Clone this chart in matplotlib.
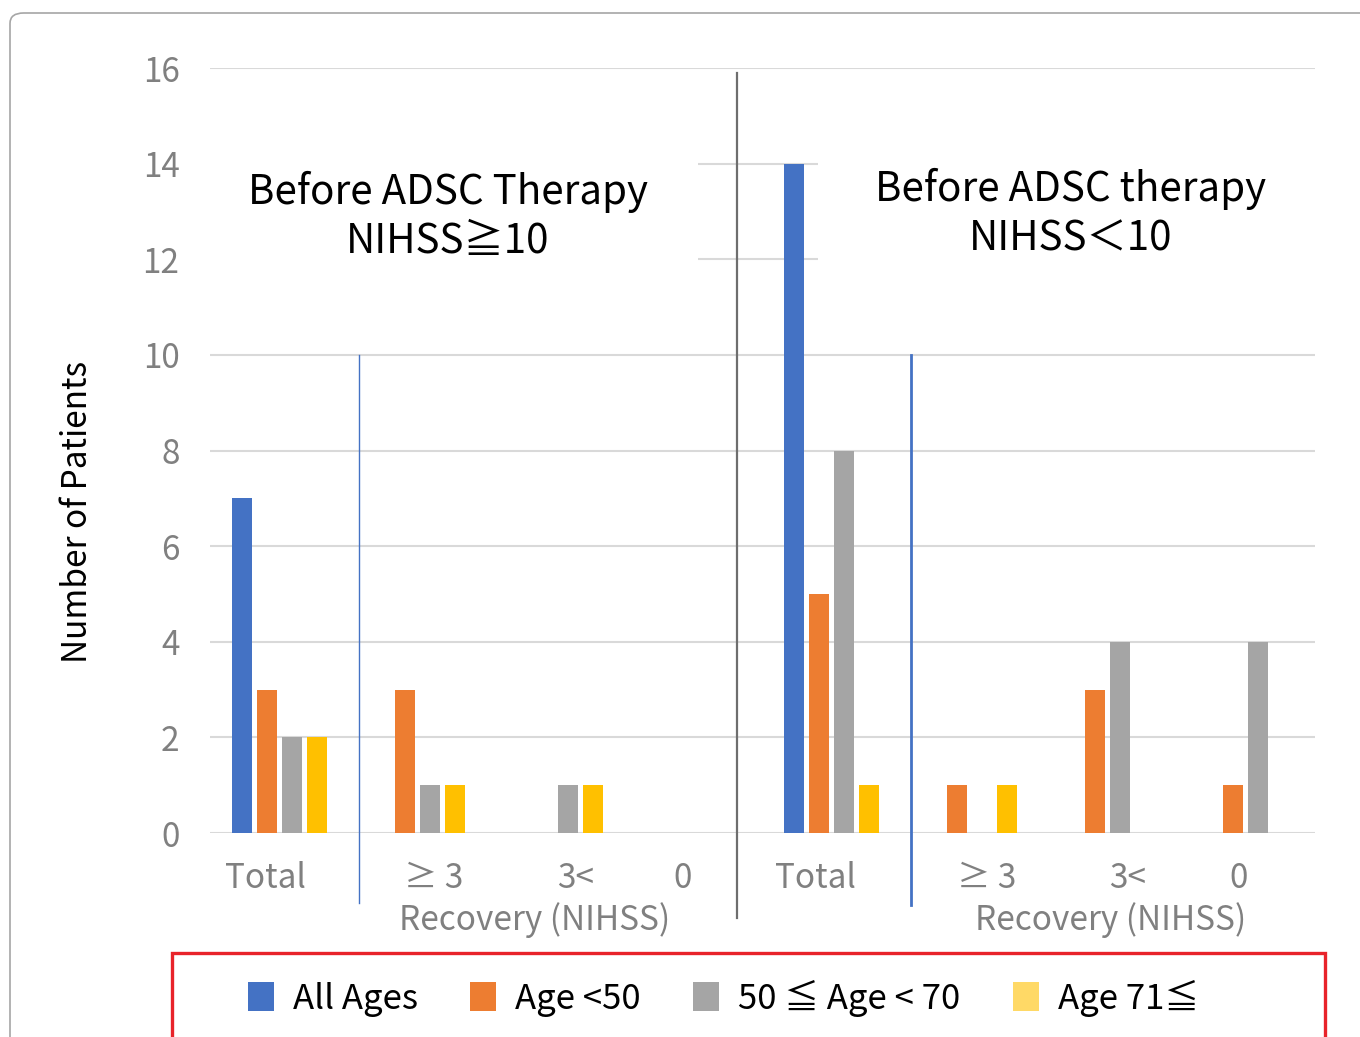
import matplotlib
matplotlib.use("Agg")
import matplotlib.pyplot as plt
from matplotlib.patches import Patch, Rectangle, FancyBboxPatch
import numpy as np

plt.rcParams["font.family"] = ["Noto Sans CJK JP", "DejaVu Sans"]

categories = ["Total", "≥ 3", "3<", "0", "Total", "≥ 3", "3<", "0"]
series_names = ["All Ages", "Age <50", "50 ≦ Age < 70", "Age 71≦"]
all_ages = [7, 0, 0, 0, 14, 0, 0, 0]
age_under_50 = [3, 3, 0, 0, 5, 1, 3, 1]
age_50_70 = [2, 1, 1, 0, 8, 0, 4, 4]
age_over_71 = [2, 1, 1, 0, 1, 1, 0, 0]
yticks = [0, 2, 4, 6, 8, 10, 12, 14, 16]

bar_colors = ["#4472C4", "#ED7D31", "#A5A5A5", "#FFC000"]
legend_colors = ["#4472C4", "#ED7D31", "#A5A5A5", "#FFD966"]
tick_gray = "#808080"

fig = plt.figure(figsize=(13.6, 10.37), dpi=100)
ax = fig.add_axes([0.1544, 0.1967, 0.8125, 0.7377])

x = np.arange(len(categories))
step = 0.181
width = 0.145
values = [all_ages, age_under_50, age_50_70, age_over_71]
for i, (vals, color) in enumerate(zip(values, bar_colors)):
    ax.bar(x + (i - 1.5) * step, vals, width=width, color=color, zorder=3)

ax.set_xlim(-0.5, 7.5)
ax.set_ylim(0, 16)
ax.set_yticks(yticks)
ax.grid(axis="y", color="#d9d9d9", linewidth=1.5, zorder=0)
ax.set_axisbelow(True)
for side in ["top", "right", "left", "bottom"]:
    ax.spines[side].set_visible(False)
ax.tick_params(axis="both", length=0, colors=tick_gray, labelsize=24)
ax.tick_params(axis="y", pad=22)
ax.tick_params(axis="x", pad=20)

# category labels sit slightly off the bar-group centres
shifts = np.array([-0.1, 0.12, 0.15, -0.08, -0.12, 0.12, 0.14, -0.05])
ax.set_xticks(x + shifts)
ax.set_xticklabels(categories)
ax.set_ylabel("Number of Patients", fontsize=24, color="black",
              labelpad=34, y=0.42)

# white panels behind the group titles hide the upper gridlines
ax.add_patch(Rectangle((-0.5, 10.6), 3.53, 4.8, facecolor="white",
                       edgecolor="none", zorder=1))
ax.add_patch(Rectangle((3.9, 10.6), 3.6, 4.8, facecolor="white",
                       edgecolor="none", zorder=1))

ax.text(1.22, 12.9, "Before ADSC Therapy\nNIHSS≧10", ha="center", va="center",
        fontsize=29, linespacing=1.25, zorder=4)
ax.text(5.73, 12.95, "Before ADSC therapy\nNIHSS＜10", ha="center", va="center",
        fontsize=29, linespacing=1.25, zorder=4)

ax.text(1.85, -1.83, "Recovery (NIHSS)", ha="center", va="center",
        fontsize=24, color=tick_gray)
ax.text(6.02, -1.83, "Recovery (NIHSS)", ha="center", va="center",
        fontsize=24, color=tick_gray)

# separators between the groups
ax.plot([0.579, 0.579], [10, -1.46], color="#4472C4", linewidth=1,
        clip_on=False, zorder=4)
ax.plot([3.315, 3.315], [15.9, -1.78], color="#6e6e6e", linewidth=1.6,
        clip_on=False, zorder=4)
ax.plot([4.575, 4.575], [10, -1.5], color="#4472C4", linewidth=2,
        clip_on=False, zorder=4)

handles = [Patch(facecolor=c, edgecolor="none") for c in legend_colors]
fig.legend(handles, series_names, loc="center", bbox_to_anchor=(0.532, 0.0376),
           ncol=4, frameon=False, fontsize=25, handlelength=0.75,
           handleheight=0.9, handletextpad=0.55, columnspacing=1.5)

fig.add_artist(Rectangle((172 / 1360, -0.02), 1153 / 1360, 0.101,
                         transform=fig.transFigure, facecolor="none",
                         edgecolor="#E8232A", linewidth=2.4))
fig.add_artist(FancyBboxPatch((10 / 1360, -0.05), 1.1, 0.05 + 1024 / 1037,
                              boxstyle="round,pad=0,rounding_size=0.01",
                              transform=fig.transFigure, facecolor="none",
                              edgecolor="#a6a6a6", linewidth=1.2))

fig.savefig("out.png", dpi=100)
